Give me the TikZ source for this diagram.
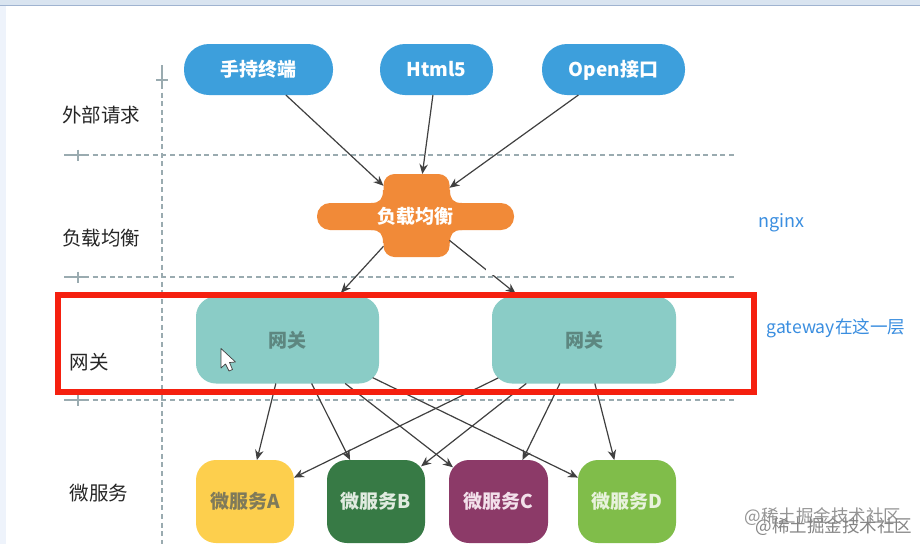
\documentclass[tikz,border=0pt]{standalone}
\usepackage{fontspec}
\setmainfont{Noto Sans CJK SC}
\usetikzlibrary{arrows.meta,positioning}
\definecolor{clientblue}{HTML}{3D9FDC}
\definecolor{lborange}{HTML}{F18A38}
\definecolor{gwteal}{HTML}{8ACCC6}
\definecolor{gwtext}{HTML}{5D8780}
\definecolor{gridgray}{HTML}{9AABB0}
\definecolor{notebluetext}{HTML}{3A8EE0}
\definecolor{svcyellow}{HTML}{FDCF4D}
\definecolor{svcyellowtext}{HTML}{7F7A5A}
\definecolor{svcgreen}{HTML}{377A45}
\definecolor{svcgreentext}{HTML}{E0EBE0}
\definecolor{svcpurple}{HTML}{8C3A68}
\definecolor{svcpurpletext}{HTML}{F2E0EA}
\definecolor{svclime}{HTML}{80BD4A}
\definecolor{svclimetext}{HTML}{E8F2DC}
\definecolor{topband}{HTML}{D9E4F0}
\definecolor{topedge}{HTML}{9FB3D0}
\definecolor{sideband}{HTML}{EEF3FB}
\definecolor{framered}{HTML}{F5200F}
\begin{document}
\begin{tikzpicture}[x=1pt,y=-1pt,
  client/.style={rounded corners=25pt,fill=clientblue,text=white,minimum height=51pt,text height=15pt,
    text depth=1pt,inner sep=0pt,outer sep=0pt,font=\fontsize{19}{19}\selectfont\bfseries},
  gwbox/.style={rounded corners=20pt,fill=gwteal,text=gwtext,minimum width=183pt,
    minimum height=87pt,inner sep=0pt,outer sep=0pt,font=\fontsize{19}{19}\selectfont\bfseries},
  svcbox/.style={rounded corners=20pt,minimum width=98pt,minimum height=83pt,inner sep=0pt,
    outer sep=0pt,font=\fontsize{19}{19}\selectfont\bfseries},
  layerlabel/.style={text=black!85,inner sep=0pt,font=\fontsize{19.5}{19.5}\selectfont},
  note/.style={text=notebluetext,inner sep=0pt},
  gridline/.style={draw=gridgray,line width=1.2pt},
  griddash/.style={gridline,dash pattern=on 5pt off 3.6pt},
  flow/.style={-{Stealth[length=10pt,width=8.5pt]},draw=black!75,line width=1.2pt}
]
\useasboundingbox (0,0) rectangle (920,544);
\fill[white] (0,0) rectangle (920,544);
\fill[topband] (0,0) rectangle (920,5);
\fill[sideband] (0,5) rectangle (6,544);
\draw[topedge,line width=.8pt] (0,5.5) -- (920,5.5);
\draw[griddash] (162,84) -- (162,544);
\draw[gridline] (162,65) -- (162,84) (156,80) -- (168,80);
\foreach \ly in {155,277,400}{
  \draw[griddash] (84,\ly) -- (737,\ly);
  \draw[gridline] (64,\ly) -- (84,\ly) (78,\ly-5.5) -- (78,\ly+5.5);
}
\node[layerlabel] (outer) at (101,115) {外部请求};
\node[layerlabel] (balancetag) at (101,238) {负载均衡};
\node[layerlabel] (gwtag) at (89,362) {网关};
\node[layerlabel] (svctag) at (99,493) {微服务};
\node[client,minimum width=149pt] (hand) at (258.5,69.5) {手持终端};
\node[client,minimum width=113pt,right=47pt of hand] (html) {Html5};
\node[client,minimum width=143pt,right=49pt of html] (open) {Open接口};
\node[rounded corners=11pt,fill=lborange,minimum width=66pt,minimum height=83pt,
  inner sep=0pt,outer sep=0pt] (core) at (416.5,215.5) {};
\fill[lborange] (383,190) .. controls (383,199) and (380,203) .. (371,203) -- (462,203)
  .. controls (453,203) and (450,199) .. (450,190) -- cycle;
\fill[lborange] (383,243) .. controls (383,234) and (380,230) .. (371,230) -- (462,230)
  .. controls (453,230) and (450,234) .. (450,243) -- cycle;
\node[rounded corners=13pt,fill=lborange,text=white,minimum width=197pt,minimum height=27pt,
  inner sep=0pt,outer sep=0pt,font=\fontsize{19}{19}\selectfont\bfseries] (balance)
  at (415.5,216.5) {负载均衡};
\node[gwbox] (gwa) at (287.5,340) {网关};
\node[gwbox,minimum width=184pt,right=113pt of gwa] (gwb) {网关};
\node[svcbox,fill=svcyellow,text=svcyellowtext] (mia) at (245,501.5) {微服务A};
\node[svcbox,fill=svcgreen,text=svcgreentext,right=33pt of mia] (mib) {微服务B};
\node[svcbox,fill=svcpurple,text=svcpurpletext,minimum width=99pt,right=24pt of mib] (mic) {微服务C};
\node[svcbox,fill=svclime,text=svclimetext,right=30pt of mic] (mid) {微服务D};
\draw[flow] (hand.-43) -- (core.138);
\draw[flow] (html.-98) -- (core.82);
\draw[flow] (open.-144) -- (core.40);
\draw[flow,shorten >=5pt] (core.223) -- (gwa.41);
\draw[flow,shorten >=5pt] (core.-37) -- (gwb.146);
\draw[flow] (gwa.-105) -- (mia.74);
\draw[flow] (gwa.-61) -- (mib.122);
\draw[flow,shorten >=-5pt] (gwa.-37) -- (mic.143);
\draw[flow,shorten <=-7pt] (gwa.-24) -- (mid.154);
\draw[flow,shorten <=-7pt] (gwb.204) -- (mia.26);
\draw[flow,shorten >=-5pt] (gwb.217) -- (mib.38);
\draw[flow] (gwb.241) -- (mic.60);
\draw[flow] (gwb.-76) -- (mid.107);
\fill[white] (486,265) rectangle (496,275);
\node[draw=framered,line width=5.5pt,minimum width=696pt,minimum height=97pt,inner sep=0pt,
  outer sep=0pt] (gwframe) at (406,343.5) {};
\draw[black!75,fill=white,line width=.7pt,line join=round] (221,348.5) -- (221,368) -- (225.5,364)
  -- (229,371) -- (232.5,369.5) -- (229.5,362.5) -- (235.5,362) -- cycle;
\node[note,font=\fontsize{18}{18}\selectfont] (nginx) at (781.5,223) {nginx};
\node[note,font=\fontsize{17.6}{17.6}\selectfont] (gwnote) at (836,328) {gateway在这一层};
\node[text=black!42,inner sep=0pt,font=\fontsize{17.5}{17.5}\selectfont] (markone) at (823,517) {@稀土掘金技术社区};
\node[text=black!48,inner sep=0pt,font=\fontsize{17.5}{17.5}\selectfont] (marktwo) at (834,527) {@稀土掘金技术社区};
\end{tikzpicture}
\end{document}
